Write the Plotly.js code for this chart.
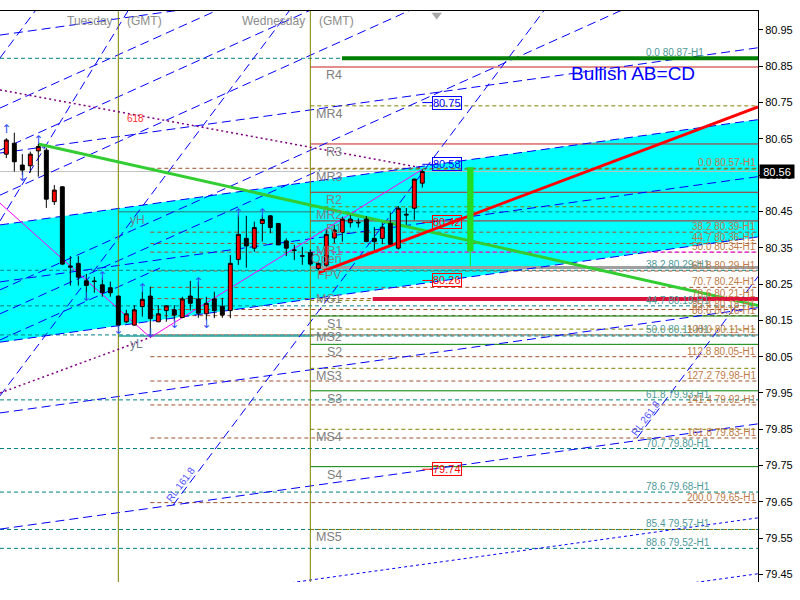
<!DOCTYPE html>
<html>
<head>
<meta charset="utf-8">
<script src="https://cdn.plot.ly/plotly-3.0.1.min.js"></script>
<style>
html,body{margin:0;padding:0;background:#ffffff;}
#chart{width:800px;height:600px;}
</style>
</head>
<body>
<div id="chart"></div>
<script>
// ================= DATA =================
// H1 bars; bar index 0 = Tuesday 00:00 (GMT), 24 = Wednesday 00:00
const barIndex = [-14,-13,-12,-11,-10,-9,-8,-7,-6,-5,-4,-3,-2,-1,0,1,2,3,4,5,6,7,8,9,10,11,12,13,14,15,16,17,18,19,20,21,22,23,24,25,26,27,28,29,30,31,32,33,34,35,36,37,38];
const opens  = [80.608,80.638,80.578,80.576,80.617,80.619,80.477,80.518,80.300,80.307,80.259,80.257,80.248,80.240,
                80.217,80.146,80.137,80.188,80.217,80.146,80.177,80.179,80.158,80.217,80.209,80.168,80.209,80.189,
                80.177,80.318,80.376,80.349,80.417,80.438,80.417,80.369,80.344,80.328,80.337,80.293,80.302,80.377,
                80.392,80.419,80.420,80.429,80.376,80.376,80.417,80.349,80.440,80.459,80.528];
const highs  = [80.652,80.667,80.608,80.615,80.636,80.625,80.523,80.520,80.327,80.327,80.278,80.270,80.267,80.257,
                80.218,80.179,80.192,80.229,80.243,80.192,80.192,80.192,80.215,80.259,80.256,80.215,80.229,80.212,
                80.330,80.440,80.438,80.422,80.440,80.440,80.418,80.376,80.358,80.353,80.345,80.310,80.400,80.413,
                80.436,80.440,80.431,80.437,80.407,80.419,80.447,80.465,80.460,80.541,80.566];
const lows   = [80.597,80.560,80.550,80.557,80.546,80.460,80.468,80.302,80.246,80.246,80.206,80.226,80.215,80.215,
                80.132,80.142,80.135,80.160,80.103,80.146,80.146,80.148,80.156,80.177,80.157,80.150,80.156,80.157,
                80.156,80.303,80.295,80.339,80.367,80.390,80.357,80.327,80.316,80.303,80.300,80.288,80.298,80.363,
                80.367,80.406,80.406,80.366,80.344,80.360,80.358,80.345,80.413,80.427,80.516];
const closes = [80.647,80.587,80.564,80.608,80.629,80.484,80.509,80.305,80.297,80.269,80.246,80.258,80.227,80.226,
                80.137,80.168,80.179,80.208,80.155,80.168,80.190,80.165,80.209,80.197,80.170,80.197,80.177,80.165,
                80.307,80.387,80.355,80.406,80.428,80.406,80.358,80.349,80.343,80.327,80.305,80.307,80.387,80.399,
                80.429,80.429,80.419,80.367,80.367,80.407,80.360,80.459,80.442,80.539,80.560];
const currentPrice = 80.56;

// visible window
const viewRange  = [-14.79, 79.96];
const priceRange = [79.4293, 81.0023];
const priceTicks = [79.45,79.55,79.65,79.75,79.85,79.95,80.05,80.15,80.25,80.35,80.45,80.55,80.65,80.75,80.85,80.95];

// day separators
const dayStarts = [0, 24];
const dayNames  = ['Tuesday', 'Wednesday'];

// regression channel (filled)
const channelX      = [-14.79, 79.96];
const channelUpper  = [80.413, 80.703];
const channelMiddle = [80.256, 80.546];
const channelLower  = [80.090, 80.380];
// other parallel blue dashed lines
const parallelStart = [80.936, 80.611, 79.895, 79.575];
const parallelEnd   = [81.226, 80.901, 80.185, 79.865];
const dottedStart   = [79.316, 79.162];
const dottedEnd     = [79.606, 79.452];
// fan lines (blue dashed)
const fanX0 = [-14.79,-14.79,-14.79,-14.79,-14.79,-14.79];
const fanY0 = [80.735, 80.619, 80.495, 80.234, 80.168, 80.096];
const fanX1 = [15.24, 26.46, 38.96, 65.2, 25.2, 5.2];
const fanY1 = [81.033, 81.029, 81.029, 81.027, 80.564, 80.294];
// steep lines incl. RL 161.8 / RL 261.8
const steepX0 = [-14.79, -14.79, -14.79, 6.84, 64.84];
const steepY0 = [80.873, 80.424, 79.942, 79.641, 79.826];
const steepX1 = [-9.79, 1.49, 22.09, 53.46, 80.21];
const steepY1 = [81.020, 81.013, 81.024, 81.011, 80.278];
const rlNames = ['RL 161.8', 'RL 261.8'];
const rlLabelX = [7.74, 65.84];
const rlLabelY = [79.699, 79.881];

// daily pivots (Wednesday)
const pivotNames  = ['R4','MR4','R3','MR3','R2','MR2','R1','MR1','Open','FPV','MS1','S1','MS2','S2','MS3','S3','MS4','S4','MS5'];
const pivotValues = [80.848,80.741,80.636,80.567,80.503,80.463,80.424,80.338,80.296,80.296,80.205,80.162,80.126,80.084,80.018,79.956,79.850,79.747,79.574];

// yesterday high / low
const yHigh = 80.449, yLow = 80.107;

// Fibonacci H1 (teal set)
const fibTealLevels = ['0.0','38.2','44.7','50.0','61.8','70.7','78.6','85.4','88.6'];
const fibTealPrices = [80.872,80.288,80.190,80.110,79.931,79.797,79.677,79.574,79.522];
// Fibonacci H1 (brown set), anchored at the swing-low bar
const fibBrownStartBar = 4;
const fibBrownLevels = ['0.0','38.2','44.7','50.0','61.8','70.7','78.6','85.4','88.6','100.0','112.8','127.2','141.4','161.8','200.0'];
const fibBrownPrices = [80.569,80.393,80.362,80.338,80.286,80.241,80.210,80.180,80.163,80.110,80.050,79.983,79.917,79.826,79.648];

// harmonic AB=CD
const abLineX = [-10, 79.96];   const abLineY = [80.636, 80.191];
const cdLineX = [25, 79.96];    const cdLineY = [80.281, 80.738];
const zigzagX = [-14.79, 4, 38]; const zigzagY = [80.473, 80.103, 80.566];
const fibArcX = [[-14.79, 38], [-14.79, 4]];
const fibArcY = [[80.785, 80.570], [79.950, 80.103]];
const targetLine = {x0: 27.96, price: 80.872};
const stopLine   = {x0: 31.8,  price: 80.209};
const abcdBar = {bar: 44, top: 80.572, bottom: 80.340, tail: 80.298};
const priceLabels = [80.75, 80.58, 80.42, 80.26, 79.74];
const priceLabelColors = ['#0000ff','#0000ff','#ff0000','#ff0000','#ff0000'];

// fractals
const fractalUpBars   = [-14, -10, -2, 3, 10, 15, 18];
const fractalUpPrices = [80.675, 80.645, 80.270, 80.237, 80.253, 80.443, 80.443];
const fractalDnBars   = [-12, -4, 0, 4, 7, 11];
const fractalDnPrices = [80.542, 80.212, 80.121, 80.113, 80.137, 80.137];

// ================= BUILD =================
const FONT = 'Liberation Sans, Arial, sans-serif';
const L = viewRange[0], R = viewRange[1];
const sessionStart = dayStarts[1];
const shapes = [];
function seg(x0, y0, x1, y1, color, width, dash){
  shapes.push({type:'line', xref:'x', yref:'y', x0:x0, y0:y0, x1:x1, y1:y1, layer:'below',
               line:{color:color, width:width, dash:dash||'solid'}});
}

// cyan channel fill (background object)
shapes.push({type:'path', xref:'x', yref:'y', layer:'below', fillcolor:'#00ffff', line:{width:0},
  path:'M'+channelX[0]+','+channelUpper[0]+' L'+channelX[1]+','+channelUpper[1]+' L'+channelX[1]+','+channelLower[1]+
       ' L'+channelX[0]+','+channelLower[0]+' Z'});

// horizontal levels
fibTealPrices.forEach(p=>seg(L, p, R, p, '#008080', 1, '4px,3px'));
seg(sessionStart, yHigh, R, yHigh, '#008080', 1, '4px,3px');
seg(sessionStart, yLow, R, yLow, '#008080', 1, '4px,3px');
fibBrownPrices.forEach(p=>seg(fibBrownStartBar, p, R, p, '#a0522d', 1, '4px,3px'));
pivotNames.forEach((n,k)=>{
  const p = pivotValues[k];
  if (n==='Open' || n==='FPV') seg(sessionStart, p, R, p, '#a0a0a0', 3);
  else if (n==='MR1') seg(sessionStart, p, R, p, '#ff00ff', 1, '4px,3px');
  else if (n[0]==='M') seg(sessionStart, p, R, p, '#808000', 1, '4px,3px');
  else if (n[0]==='R') seg(sessionStart, p, R, p, '#c81e1e', 1);
  else seg(sessionStart, p, R, p, '#008000', 1);
});
seg(L, currentPrice, R, currentPrice, '#c0c0c0', 1);
seg(dayStarts[0], yHigh, sessionStart, yHigh, '#20a0a0', 1.5);
seg(dayStarts[0], yLow, sessionStart, yLow, '#20a0a0', 1.5);

// blue dashed channel / fan / steep lines
seg(channelX[0], channelUpper[0], channelX[1], channelUpper[1], '#0000ff', 1, '9px,5px');
seg(channelX[0], channelMiddle[0], channelX[1], channelMiddle[1], '#0000ff', 1, '9px,5px');
seg(channelX[0], channelLower[0], channelX[1], channelLower[1], '#0000ff', 1, '9px,5px');
parallelStart.forEach((v,k)=>seg(channelX[0], v, channelX[1], parallelEnd[k], '#0000ff', 1, '9px,5px'));
dottedStart.forEach((v,k)=>seg(channelX[0], v, channelX[1], dottedEnd[k], '#0000ff', 1, '3px,3px'));
fanX0.forEach((v,k)=>seg(v, fanY0[k], fanX1[k], fanY1[k], '#0000ff', 1, '9px,5px'));
steepX0.forEach((v,k)=>seg(v, steepY0[k], steepX1[k], steepY1[k], '#0000ff', 1, '9px,5px'));

// day separators
dayStarts.forEach(d=>seg(d, priceRange[0], d, priceRange[1], '#808000', 1));

// objects
seg(targetLine.x0, targetLine.price, R, targetLine.price, '#008000', 4);
fibArcX.forEach((xs,k)=>seg(xs[0], fibArcY[k][0], xs[1], fibArcY[k][1], '#800080', 1.5, '2px,3px'));
seg(zigzagX[0], zigzagY[0], zigzagX[1], zigzagY[1], '#ff00ff', 1);
seg(zigzagX[1], zigzagY[1], zigzagX[2], zigzagY[2], '#ff00ff', 1);
seg(abLineX[0], abLineY[0], abLineX[1], abLineY[1], '#32cd32', 3);
seg(cdLineX[0], cdLineY[0], cdLineX[1], cdLineY[1], '#ff0000', 3);
seg(stopLine.x0, stopLine.price, R, stopLine.price, '#dc143c', 4);
const hw = 0.4;
shapes.push({type:'rect', xref:'x', yref:'y', layer:'below', x0:abcdBar.bar-hw, x1:abcdBar.bar+hw,
  y0:abcdBar.bottom, y1:abcdBar.top, fillcolor:'#22dd22', line:{width:0}});
seg(abcdBar.bar, abcdBar.bottom, abcdBar.bar, abcdBar.tail, '#22dd22', 1);
// price-label leader lines are drawn by the annotations below

const traces = [];
// candles (foreground)
traces.push({type:'candlestick', x:barIndex, open:opens, high:highs, low:lows, close:closes,
  increasing:{fillcolor:'#ff0000', line:{color:'#000000', width:1}},
  decreasing:{fillcolor:'#000000', line:{color:'#000000', width:1}},
  whiskerwidth:0, hoverinfo:'skip', showlegend:false});
// fractals
traces.push({type:'scatter', mode:'text', x:fractalUpBars, y:fractalUpPrices, text:fractalUpBars.map(()=>'↑'),
  textfont:{family:'DejaVu Sans', size:12, color:'#3050ff'}, hoverinfo:'skip', showlegend:false});
traces.push({type:'scatter', mode:'text', x:fractalDnBars, y:fractalDnPrices, text:fractalDnBars.map(()=>'↓'),
  textfont:{family:'DejaVu Sans', size:12, color:'#3050ff'}, hoverinfo:'skip', showlegend:false});
// chart shift marker
traces.push({type:'scatter', mode:'markers', x:[39.8], y:[80.991], marker:{symbol:'triangle-down', size:9, color:'#a8a8a8'},
  hoverinfo:'skip', showlegend:false});

// ================= ANNOTATIONS =================
const ann = [];
const pivotShift = {MR1:1, Open:8, MS1:1};
pivotNames.forEach((n,k)=>{
  ann.push({x:28.15, y:pivotValues[k], xref:'x', yref:'y', text:n, showarrow:false, xanchor:'right', yanchor:'middle',
    yshift:(n in pivotShift)?pivotShift[n]:-8, font:{family:FONT, size:12.5, color:'#808080'}});
});
fibTealLevels.forEach((lv,k)=>{
  ann.push({x:65.8, y:fibTealPrices[k], xref:'x', yref:'y', text:lv+' '+fibTealPrices[k].toFixed(2)+'-H1', showarrow:false,
    xanchor:'left', yanchor:'bottom', yshift:-1, borderpad:0, font:{family:FONT, size:10, color:'#4f9a9a'}});
});
fibBrownLevels.forEach((lv,k)=>{
  ann.push({x:79.85, y:fibBrownPrices[k], xref:'x', yref:'y', text:lv+' '+fibBrownPrices[k].toFixed(2)+'-H1', showarrow:false,
    xanchor:'right', yanchor:'bottom', yshift:-1, borderpad:0, font:{family:FONT, size:10, color:'#c07a48'}});
});
priceLabels.forEach((v,k)=>{
  ann.push({x:barIndex[barIndex.length-1], y:v, xref:'x', yref:'y', text:v.toFixed(2), showarrow:true, arrowhead:0,
    arrowwidth:1, arrowcolor:priceLabelColors[k], ax:25, ay:0, bordercolor:priceLabelColors[k], borderwidth:1, borderpad:0,
    font:{family:FONT, size:11, color:priceLabelColors[k]}});
});
dayStarts.forEach((d,k)=>{
  ann.push({x:d, y:1, xref:'x', yref:'paper', text:dayNames[k], showarrow:false, xanchor:'right', yanchor:'middle',
    xshift:-3, yshift:-9.5, font:{family:FONT, size:12, color:'#8c8c8c'}});
  ann.push({x:d, y:1, xref:'x', yref:'paper', text:'(GMT)', showarrow:false, xanchor:'left', yanchor:'middle',
    xshift:7, yshift:-9.5, font:{family:FONT, size:12, color:'#8c8c8c'}});
});
ann.push({x:1.2, y:yHigh, xref:'x', yref:'y', text:'yH', showarrow:false, xanchor:'left', yshift:-8, font:{family:FONT, size:12, color:'#708090'}});
ann.push({x:1.2, y:yLow, xref:'x', yref:'y', text:'yL', showarrow:false, xanchor:'left', yshift:-8, font:{family:FONT, size:12, color:'#708090'}});
ann.push({x:2.1, y:80.705, xref:'x', yref:'y', text:'618', showarrow:false, font:{family:FONT, size:10, color:'#ff3030'}});
rlNames.forEach((t,k)=>{
  ann.push({x:rlLabelX[k], y:rlLabelY[k], xref:'x', yref:'y', text:t, showarrow:false, textangle:-53,
    font:{family:FONT, size:10, color:'#5050ff'}});
});
ann.push({x:64.35, y:80.83, xref:'x', yref:'y', text:'Bullish AB=CD', showarrow:false, font:{family:FONT, size:19, color:'#0000ff'}});
ann.push({x:1, y:currentPrice, xref:'paper', yref:'y', text:currentPrice.toFixed(2), showarrow:false, xanchor:'left',
  xshift:1, bgcolor:'#000000', width:34, height:13, borderpad:0, font:{family:FONT, size:11, color:'#ffffff'}});

const layout = {
  width:800, height:600,
  margin:{l:0, r:42, t:11, b:18, pad:0},
  paper_bgcolor:'#ffffff', plot_bgcolor:'#ffffff',
  showlegend:false,
  font:{family:FONT, size:11, color:'#000000'},
  xaxis:{range:viewRange, side:'top', showline:true, linecolor:'#000000', linewidth:1, showgrid:false, zeroline:false,
    showticklabels:false, ticks:'', rangeslider:{visible:false}, fixedrange:true},
  yaxis:{range:priceRange, side:'right', showline:true, linecolor:'#000000', linewidth:1, showgrid:false, zeroline:false,
    ticks:'outside', ticklen:4, tickcolor:'#000000', tickvals:priceTicks, ticktext:priceTicks.map(v=>v.toFixed(2)),
    tickfont:{family:FONT, size:11, color:'#000000'}, fixedrange:true},
  shapes:shapes,
  annotations:ann
};
Plotly.newPlot('chart', traces, layout, {staticPlot:true, displayModeBar:false});
</script>
</body>
</html>
